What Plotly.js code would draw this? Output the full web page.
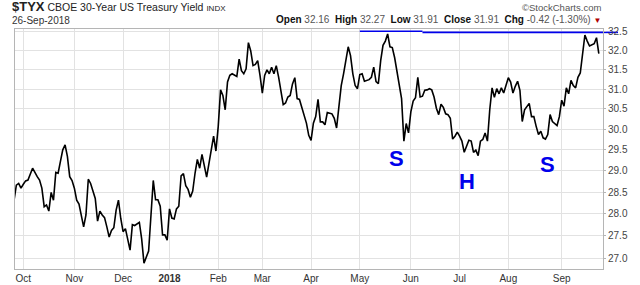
<!DOCTYPE html>
<html>
<head>
<meta charset="utf-8">
<script src="https://cdn.plot.ly/plotly-3.0.1.min.js"></script>
<style>
  html, body { margin: 0; padding: 0; background: #fff; }
  #chart { width: 640px; height: 285px; }
</style>
</head>
<body>
<div id="chart"></div>
<script>
// Trading-day number (0 = 26-Sep-2017) and TYX close (yield x 10)
var day = [0,1,2,3,4,5,6,8,10,11,12,13,14,15,16,17,18,19,20,21,22,23,24,25,26,27,28,29,30,31,32,33,35,36,37,38,39,40,41,42,43,44,45,46,47,48,50,51,52,54,55,56,58,60,61,62,63,64,65,66,67,68,69,70,71,72,73,74,75,76,77,78,79,80,81,83,84,85,86,87,88,89,90,91,92,93,94,96,97,98,99,100,101,102,103,104,105,106,107,108,109,110,111,112,113,114,115,116,117,118,119,120,121,122,123,125,126,127,128,129,130,131,132,133,134,135,137,138,139,140,141,142,143,144,145,146,147,148,149,150,151,153,154,155,156,157,158,159,160,161,162,163,164,165,166,167,168,169,170,171,172,173,174,175,176,177,178,179,180,181,182,183,184,185,186,187,188,189,190,191,192,193,194,196,197,198,199,200,201,202,203,204,205,206,207,208,209,210,211,212,213,214,215,216,217,218,219,220,222,223,224,225,226,227,228,229,230,231,232,234,235,236,237,238,239,240,241,242,243,244,245,246,247,248,250,251,252];
var tyx = [28.31,28.66,28.70,28.59,28.68,28.76,28.78,29.06,28.86,28.78,28.59,28.16,28.20,28.06,28.49,28.31,28.96,28.94,29.22,29.50,29.62,29.34,28.86,28.77,28.59,28.31,28.22,27.97,27.70,27.97,28.80,28.70,28.35,27.83,28.06,27.97,27.91,27.70,27.47,27.62,27.68,28.08,28.31,27.89,27.59,27.66,27.18,27.75,27.73,27.80,27.43,26.89,27.16,28.77,28.32,28.32,28.17,27.52,27.52,27.40,28.11,27.90,27.88,28.11,28.17,28.88,28.93,28.65,28.56,28.38,28.52,28.94,29.27,29.06,29.39,28.85,29.18,29.47,29.83,29.47,30.07,30.98,30.84,30.48,31.18,31.35,31.39,31.32,31.77,31.47,31.39,31.52,32.20,31.98,31.60,31.63,31.73,31.35,30.90,31.35,31.49,31.39,31.56,31.39,31.60,31.31,30.93,30.61,30.65,30.80,30.84,31.13,31.29,30.76,30.74,30.31,30.15,29.85,29.73,30.15,30.31,30.74,30.18,30.18,30.11,30.41,30.38,30.27,30.03,30.56,31.09,31.39,31.73,32.09,31.86,31.39,31.09,31.01,31.37,31.39,31.20,31.24,31.30,31.56,31.19,31.14,31.73,32.13,32.24,32.43,32.09,32.07,31.81,31.47,31.05,30.76,29.71,30.14,29.91,30.43,30.70,30.78,31.30,30.80,30.82,30.97,30.98,31.01,30.98,30.80,30.52,30.36,30.62,30.54,30.38,30.36,30.27,29.76,29.83,29.93,29.83,29.71,29.44,29.73,29.71,29.44,29.49,29.36,29.71,29.75,29.91,29.71,30.48,31.03,30.79,31.01,30.88,31.03,30.90,31.07,31.29,31.18,30.90,31.07,31.20,30.97,30.19,30.48,30.64,30.31,30.31,30.07,29.87,29.95,29.79,29.76,29.87,30.36,30.19,30.09,30.31,30.72,30.57,31.03,30.88,31.22,31.09,31.03,31.30,31.41,31.94,32.40,32.24,32.11,32.17,32.33,31.91];

// Month ticks (trading-day number of first session of each month)
var monthDay = [4,26,47,67,88,107,128,149,171,192,213,236];
var monthLabel = ['Oct','Nov','Dec','<b>2018</b>','Feb','Mar','Apr','May','Jun','Jul','Aug','Sep'];

// Y ticks
var yTicks = [27.0,27.5,28.0,28.5,29.0,29.5,30.0,30.5,31.0,31.5,32.0,32.5];

// Resistance lines (blue)
var res1Day = [149,176], res1Val = [32.50,32.50];
var res2Day = [176,254], res2Val = [32.47,32.47];

// Pattern labels
var patText = ['S','H','S'];
var patDay  = [164.9,195.1,229.8];
var patVal  = [29.28,28.75,29.15];

var FONT = 'Liberation Sans, Arial, sans-serif';
var Y_RANGE = [1.42753, 1.51268];

var traces = [
  {x: res1Day, y: res1Val, type:'scatter', mode:'lines',
   line:{color:'rgb(0,0,235)', width:1.6}, hoverinfo:'skip'},
  {x: res2Day, y: res2Val, type:'scatter', mode:'lines',
   line:{color:'rgb(0,0,235)', width:1.6}, hoverinfo:'skip'},
  {x: day, y: tyx, type:'scatter', mode:'lines',
   line:{color:'#000', width:1.6}, hoverinfo:'skip'}
];

var ann = [];
for (var i = 0; i < patText.length; i++) {
  ann.push({x: patDay[i], y: Math.log10(patVal[i]), xref:'x', yref:'y',
    text: '<b>' + patText[i] + '</b>', showarrow:false,
    font:{family:FONT, size:22, color:'rgb(0,0,235)'}});
}
// header texts
ann.push({xref:'paper', yref:'paper', x:-0.0085, y:1.094, xanchor:'left', yanchor:'middle',
  showarrow:false, align:'left',
  text:'<b><span style="font-size:13px">$TYX</span></b> CBOE 30-Year US Treasury Yield <span style="font-size:8px">INDX</span>',
  font:{family:FONT, size:10.5, color:'#222'}});
ann.push({xref:'paper', yref:'paper', x:-0.0085, y:1.035, xanchor:'left', yanchor:'middle',
  showarrow:false, text:'26-Sep-2018', font:{family:FONT, size:10, color:'#333'}});
ann.push({xref:'paper', yref:'paper', x:1.0, y:1.04, xanchor:'right', yanchor:'middle',
  showarrow:false,
  text:'<b>Open</b> <span style="fill:#555">32.16</span>  <b>High</b> <span style="fill:#555">32.27</span>  <b>Low</b> <span style="fill:#555">31.91</span>  <b>Close</b> <span style="fill:#555">31.91</span>  <b>Chg</b> <span style="fill:#555">-0.42 (-1.30%)</span> <span style="fill:#b00000;font-size:8px">▼</span>',
  font:{family:FONT, size:10, color:'#111'}});
ann.push({xref:'paper', yref:'paper', x:1.0, y:1.088, xanchor:'right', yanchor:'middle',
  showarrow:false, text:'©StockCharts.com', font:{family:FONT, size:9.5, color:'#555'}});

// the resistance line runs on a little past the price axis, under its top label
var resPaperY = (Math.log10(res2Val[0]) - Y_RANGE[0]) / (Y_RANGE[1] - Y_RANGE[0]);
var shapes = [{type:'line', xref:'paper', yref:'paper', x0:1.0, x1:1.0255,
  y0:resPaperY, y1:resPaperY, line:{color:'rgb(0,0,235)', width:1.6}, layer:'below'}];

var layout = {
  width:640, height:285,
  margin:{l:15, r:37, t:29, b:16, pad:0},
  paper_bgcolor:'#fff', plot_bgcolor:'#fff',
  showlegend:false,
  xaxis:{
    range:[0.42, 253.8], tickvals: monthDay, ticktext: monthLabel,
    showgrid:true, gridcolor:'#e2e2e2', gridwidth:1,
    zeroline:false, showline:true, linecolor:'#b5b5b5', linewidth:1, mirror:true,
    ticks:'', tickfont:{family:FONT, size:10, color:'#333'}, automargin:false, fixedrange:true
  },
  yaxis:{
    type:'log', side:'right', range:Y_RANGE,
    tickvals: yTicks, ticktext: yTicks.map(function(v){return v.toFixed(1);}),
    showgrid:true, gridcolor:'#e2e2e2', gridwidth:1,
    zeroline:false, showline:true, linecolor:'#b5b5b5', linewidth:1, mirror:true,
    ticks:'outside', ticklen:2, tickcolor:'#b5b5b5',
    tickfont:{family:FONT, size:10, color:'#444'}, automargin:false, fixedrange:true
  },
  shapes: shapes,
  annotations: ann
};

Plotly.newPlot('chart', traces, layout, {staticPlot:true, displayModeBar:false});
</script>
</body>
</html>
